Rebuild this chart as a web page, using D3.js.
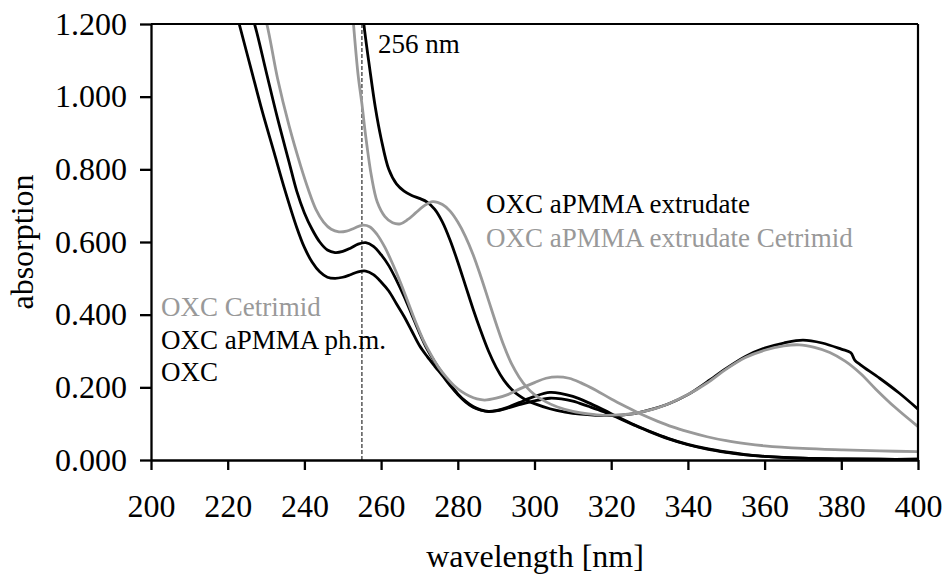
<!DOCTYPE html>
<html>
<head>
<meta charset="utf-8">
<script src="https://cdn.jsdelivr.net/npm/d3@7"></script>
</head>
<body style="margin:0;background:#fff">
<svg id="chart" width="944" height="574"></svg>
<script>
// ---------------- data ----------------
const xTicks = [200, 220, 240, 260, 280, 300, 320, 340, 360, 380, 400];
const yTicks = [0, 0.2, 0.4, 0.6, 0.8, 1.0, 1.2];
const markerWavelength = 255;
const markerLabel = "256 nm";
const xTitle = "wavelength [nm]";
const yTitle = "absorption";

// OXC
const oxcWl  = [221,223,226,229,232,235,238,240,242,244,246,248,250,252,254,256,258,260,262,264,266,268,270,272,274,276,278,280,282,284,286,288,290,293,296,300,304,307,310,314,318,322,326,330,335,340,345,350,355,360,370,380,390,400];
const oxcAbs = [1.28,1.2,1.08,0.96,0.85,0.74,0.64,0.585,0.545,0.518,0.503,0.5,0.503,0.51,0.518,0.52,0.51,0.49,0.465,0.43,0.395,0.355,0.315,0.285,0.258,0.232,0.205,0.18,0.16,0.145,0.137,0.133,0.135,0.143,0.152,0.163,0.17,0.168,0.162,0.148,0.133,0.115,0.096,0.078,0.058,0.042,0.03,0.021,0.014,0.01,0.005,0.003,0.002,0.002];

// OXC aPMMA ph.m.
const phmWl  = [224.5,227,230,233,236,238,240,242,244,246,248,250,252,254,256,258,260,262,264,266,268,270,272,274,276,278,280,282,284,286,288,290,293,296,300,304,307,310,314,318,322,326,330,335,340,345,350,355,360,370,380,390,400];
const phmAbs = [1.28,1.2,1.07,0.94,0.82,0.74,0.68,0.635,0.6,0.578,0.571,0.574,0.583,0.594,0.598,0.588,0.565,0.535,0.495,0.45,0.4,0.35,0.305,0.27,0.238,0.208,0.182,0.162,0.147,0.138,0.134,0.136,0.145,0.158,0.175,0.186,0.183,0.175,0.158,0.138,0.117,0.097,0.079,0.059,0.043,0.031,0.022,0.015,0.01,0.005,0.003,0.002,0.002];

// OXC Cetrimid
const cetWl  = [228,230.2,233,236,239,241,243,245,247,249,251,253,255,257,259,261,263,265,267,269,271,273,275,277,279,281,283,285,287,290,293,296,300,303,306,309,312,316,320,324,328,332,336,340,345,350,355,360,370,380,390,400];
const cetAbs = [1.28,1.2,1.05,0.92,0.81,0.745,0.69,0.655,0.635,0.628,0.63,0.638,0.646,0.642,0.62,0.585,0.54,0.49,0.435,0.38,0.33,0.29,0.255,0.228,0.205,0.188,0.176,0.168,0.165,0.17,0.18,0.195,0.213,0.225,0.229,0.225,0.213,0.192,0.168,0.146,0.125,0.107,0.091,0.078,0.064,0.053,0.045,0.039,0.032,0.028,0.025,0.023];

// OXC aPMMA extrudate
const extWl  = [254.8,255.5,257,258.5,260,262,264,266,268,270,272,274,276,278,280,282,284,286,288,290,292,294,296,298,300,304,308,312,316,320,325,330,335,340,345,350,355,360,365,370,375,380,382.5,383.5,385,390,395,400];
const extAbs = [1.28,1.2,1.08,0.97,0.885,0.8,0.76,0.74,0.728,0.72,0.71,0.69,0.655,0.605,0.545,0.48,0.415,0.355,0.3,0.255,0.22,0.195,0.177,0.164,0.155,0.141,0.132,0.126,0.123,0.122,0.126,0.138,0.155,0.18,0.215,0.252,0.285,0.308,0.322,0.33,0.322,0.305,0.295,0.275,0.262,0.225,0.185,0.14];

// OXC aPMMA extrudate Cetrimid
const extCetWl  = [252.2,252.8,254,255,256,257.5,259,261,263,265,267,269,271,273.5,276,278,280,282,284,286,288,290,292,294,296,298,300,303,306,310,314,318,322,326,330,335,340,345,350,355,360,365,369,373,377,381,385,389,394,400];
const extCetAbs = [1.28,1.2,1.06,0.98,0.89,0.78,0.71,0.67,0.653,0.65,0.662,0.68,0.698,0.711,0.703,0.685,0.655,0.615,0.565,0.505,0.44,0.375,0.315,0.265,0.228,0.2,0.18,0.16,0.146,0.134,0.127,0.123,0.124,0.128,0.137,0.155,0.18,0.212,0.25,0.282,0.302,0.314,0.317,0.31,0.296,0.272,0.238,0.195,0.145,0.092];

const seriesNames  = ["OXC", "OXC aPMMA ph.m.", "OXC Cetrimid", "OXC aPMMA extrudate", "OXC aPMMA extrudate Cetrimid"];
const seriesWl     = [oxcWl, phmWl, cetWl, extWl, extCetWl];
const seriesAbs    = [oxcAbs, phmAbs, cetAbs, extAbs, extCetAbs];
const seriesColors = ["#000000", "#000000", "#999999", "#000000", "#999999"];

// ---------------- chart ----------------
const FONT = "'Liberation Serif', Tinos, 'Times New Roman', Times, serif";
const svg = d3.select("#chart").style("display", "block")
  .style("font-family", FONT, "important");
const pL = 151, pR = 918, pT = 24, pB = 460;

function serif(sel, size) {
  return sel.style("font-family", FONT, "important")
            .style("font-size", size + "px", "important");
}

const x = d3.scaleLinear().domain([200, 400]).range([pL, pR]);
const y = d3.scaleLinear().domain([0, 1.2]).range([pB, pT]);

svg.append("defs").append("clipPath").attr("id", "plotclip")
  .append("rect").attr("x", pL).attr("y", pT)
  .attr("width", pR - pL).attr("height", pB - pT);

// dashed marker
svg.append("line")
  .attr("x1", x(markerWavelength)).attr("x2", x(markerWavelength))
  .attr("y1", y(1.2)).attr("y2", y(0))
  .attr("stroke", "#000").attr("stroke-width", 1)
  .attr("stroke-dasharray", "4,2");

const line = d3.line()
  .x(d => x(d[0])).y(d => y(d[1]))
  .curve(d3.curveCatmullRom.alpha(0.5));

const g = svg.append("g").attr("clip-path", "url(#plotclip)");
const order = [0, 1, 3, 2, 4];
order.forEach(i => {
  const pts = seriesWl[i].map((w, k) => [w, seriesAbs[i][k]]);
  g.append("path")
    .datum(pts)
    .attr("d", line)
    .attr("fill", "none")
    .attr("stroke", seriesColors[i])
    .attr("stroke-width", 2.8)
    .attr("stroke-linejoin", "round");
});

// frame (top and right)
svg.append("line").attr("x1", pL).attr("x2", pR).attr("y1", pT).attr("y2", pT)
  .attr("stroke", "#000").attr("stroke-width", 2.2);
svg.append("line").attr("x1", pR).attr("x2", pR).attr("y1", pT).attr("y2", pB)
  .attr("stroke", "#000").attr("stroke-width", 2.2);

// axes
const xAxis = svg.append("g").attr("transform", `translate(0,${pB})`)
  .call(d3.axisBottom(x).tickValues(xTicks).tickSize(10).tickSizeOuter(0).tickFormat(d3.format("d")));
const yAxis = svg.append("g").attr("transform", `translate(${pL},0)`)
  .call(d3.axisLeft(y).tickValues(yTicks).tickSize(11).tickSizeOuter(0).tickFormat(d3.format(".3f")));

[xAxis, yAxis].forEach(a => {
  a.attr("font-family", null).attr("font-size", null);
  a.selectAll("path.domain").attr("stroke", "#000").attr("stroke-width", 2.3);
  a.selectAll(".tick line").attr("stroke", "#000").attr("stroke-width", 2.3);
});
serif(xAxis.selectAll("text").attr("y", 57).attr("dy", 0).attr("fill", "#000"), 32);
serif(yAxis.selectAll("text").attr("x", -24).attr("dy", "0.32em").attr("fill", "#000"), 32);

// axis titles
serif(svg.append("text").attr("x", 535).attr("y", 567).attr("text-anchor", "middle").text(xTitle), 32);
serif(svg.append("text").attr("transform", `translate(33,${(pT + pB) / 2}) rotate(-90)`)
  .attr("text-anchor", "middle").text(yTitle), 32);

// annotations / labels
const labelFont = 27;
serif(svg.append("text").attr("x", 378).attr("y", 53).text(markerLabel), labelFont);

const labels = [
  { i: 3, x: 486, y: 213 },
  { i: 4, x: 486, y: 247 },
  { i: 2, x: 161, y: 316 },
  { i: 1, x: 161, y: 349 },
  { i: 0, x: 161, y: 381 }
];
labels.forEach(l => {
  serif(svg.append("text").attr("x", l.x).attr("y", l.y)
    .attr("fill", seriesColors[l.i]).text(seriesNames[l.i]), labelFont);
});
</script>
</body>
</html>
